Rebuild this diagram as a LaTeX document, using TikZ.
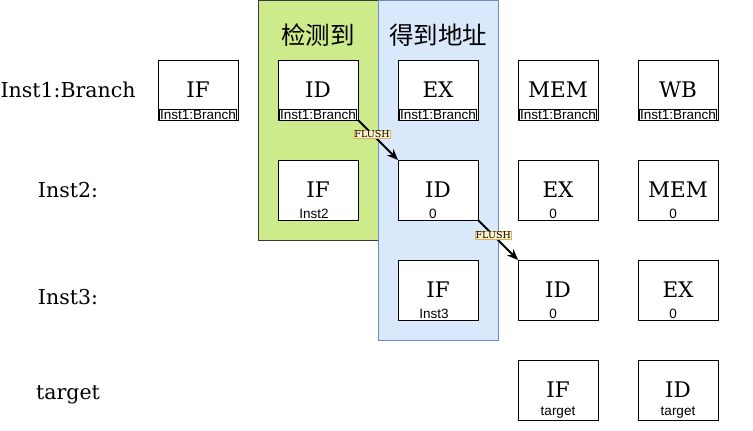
\documentclass[tikz,border=0pt]{standalone}
\usepackage{fontspec}
\setmainfont{DejaVu Serif}
\setsansfont{Liberation Sans}
\newfontfamily\cjk{Noto Sans CJK SC}
\usetikzlibrary{positioning, arrows.meta}
\definecolor{detectfill}{HTML}{CDEB8B}
\definecolor{detectline}{HTML}{36393D}
\definecolor{addrfill}{HTML}{DAE8FC}
\definecolor{addrline}{HTML}{6C8EBF}
\definecolor{flushfill}{HTML}{FFF2CC}
\definecolor{flushline}{HTML}{D6B656}

\begin{document}
\begin{tikzpicture}[
        x=1pt, y=1pt,
        stagebox/.style={rectangle, minimum width=120pt, anchor=north west, inner sep=0pt, outer sep=0pt, line width=0.8pt},
        cell/.style={rectangle, draw=black, fill=white, minimum width=80pt, minimum height=60pt, inner sep=0pt, outer sep=0pt, line width=0.8pt, font=\fontsize{21.5}{24}\selectfont},
        tag/.style={font=\sffamily\fontsize{13.5}{15}\selectfont, inner sep=0.5pt, outer sep=0pt},
        tagbox/.style={tag, draw=black, line width=0.6pt, fill=white},
        rowname/.style={font=\fontsize{20.5}{24}\selectfont},
        head/.style={font=\cjk\fontsize{24.5}{28}\selectfont},
        flush/.style={rectangle, fill=flushfill, draw=flushline, line width=0.5pt, inner sep=0.6pt, font=\fontsize{9.5}{11}\selectfont},
        arrow/.style={-{Stealth[length=11pt, width=9pt]}, line width=2pt, draw=black}
    ]
        \useasboundingbox (0,0) rectangle (753,-431);

        % stage backgrounds
        \node[stagebox, fill=detectfill, draw=detectline, minimum height=240pt] (detect) at (258,0) {};
        \node[stagebox, fill=addrfill, draw=addrline, minimum height=340pt] (addr) at (378,0) {};
        \node[head] (detecthead) at (318,-35) {检测到};
        \node[head] (addrhead) at (438,-35) {得到地址};

        % row names
        \node[rowname] (instone) at (68,-90) {Inst1:Branch};
        \node[rowname] (insttwo) at (68,-190) {Inst2:};
        \node[rowname] (instthree) at (68,-297) {Inst3:};
        \node[rowname] (insttarget) at (68,-395) {target};

        % Inst1:Branch
        \node[cell] (ifone) at (198,-90) {IF};
        \node[cell, right=40pt of ifone] (idone) {ID};
        \node[cell, right=40pt of idone] (exone) {EX};
        \node[cell, right=40pt of exone] (memone) {MEM};
        \node[cell, right=40pt of memone] (wbone) {WB};
        \node[tagbox, above=0pt of ifone.south] (ifonetag) {Inst1:Branch};
        \node[tagbox, above=0pt of idone.south] (idonetag) {Inst1:Branch};
        \node[tagbox, above=0pt of exone.south] (exonetag) {Inst1:Branch};
        \node[tagbox, above=0pt of memone.south] (memonetag) {Inst1:Branch};
        \node[tagbox, above=0pt of wbone.south] (wbonetag) {Inst1:Branch};

        % Inst2
        \node[cell, below=40pt of idone] (iftwo) {IF};
        \node[cell, right=40pt of iftwo] (idtwo) {ID};
        \node[cell, right=40pt of idtwo] (extwo) {EX};
        \node[cell, right=40pt of extwo] (memtwo) {MEM};
        \node[tag, above=1pt of iftwo.south, xshift=-4pt] (iftwotag) {Inst2};
        \node[tag, above=1pt of idtwo.south, xshift=-5pt] (idtwotag) {0};
        \node[tag, above=1pt of extwo.south, xshift=-5pt] (extwotag) {0};
        \node[tag, above=1pt of memtwo.south, xshift=-5pt] (memtwotag) {0};

        % Inst3
        \node[cell, below=40pt of idtwo] (ifthree) {IF};
        \node[cell, right=40pt of ifthree] (idthree) {ID};
        \node[cell, right=40pt of idthree] (exthree) {EX};
        \node[tag, above=1pt of ifthree.south, xshift=-4pt] (ifthreetag) {Inst3};
        \node[tag, above=1pt of idthree.south, xshift=-5pt] (idthreetag) {0};
        \node[tag, above=1pt of exthree.south, xshift=-5pt] (exthreetag) {0};

        % target
        \node[cell, below=40pt of idthree] (iftarget) {IF};
        \node[cell, right=40pt of iftarget] (idtarget) {ID};
        \node[tag, above=1pt of iftarget.south] (iftargettag) {target};
        \node[tag, above=1pt of idtarget.south] (idtargettag) {target};

        \draw[arrow] (idone.south east) -- node[flush, pos=0.35] (flushone) {FLUSH} (idtwo.north west);
        \draw[arrow] (idtwo.south east) -- node[flush, pos=0.38] (flushtwo) {FLUSH} (idthree.north west);
    \end{tikzpicture}
\end{document}
